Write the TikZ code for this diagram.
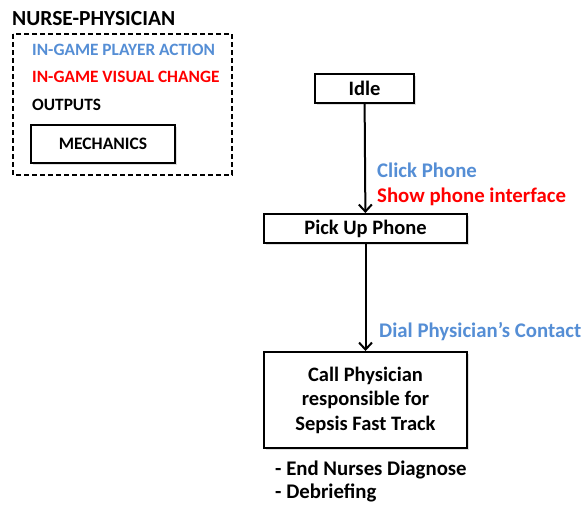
\documentclass[tikz,border=0pt]{standalone}
\usepackage{fontspec}
\setmainfont{Carlito}
\usepackage{tikz}
\usetikzlibrary{arrows.meta, shadows, positioning}

\definecolor{actionblue}{RGB}{85,142,213}
\definecolor{visualred}{RGB}{255,0,0}

\tikzset{
  statebox/.style={draw, line width=2pt, fill=white, inner sep=0pt,
    font=\fontsize{20.5}{24.5}\selectfont\bfseries, align=center,
    drop shadow={shadow xshift=1.5pt, shadow yshift=-1.5pt, opacity=0.25}},
  legendtext/.style={anchor=west, inner sep=0pt, font=\fontsize{17.3}{20}\selectfont\bfseries},
  edgetext/.style={anchor=west, inner sep=0pt, font=\fontsize{20.8}{24}\selectfont\bfseries},
  flow/.style={line width=2pt, -{Straight Barb[length=7pt, width=13pt, line width=2pt]}}
}

\begin{document}
\begin{tikzpicture}[x=1pt, y=-1pt]
    \useasboundingbox (0,0) rectangle (585,507);

    % legend
    \node[legendtext, font=\fontsize{21.5}{24}\selectfont\bfseries] (title) at (12,19) {NURSE-PHYSICIAN};
    \draw[line width=1.8pt, dash pattern=on 5pt off 3pt] (13,34) rectangle (232,175);
    \node[legendtext, text=actionblue] (legaction) at (32,50) {IN-GAME PLAYER ACTION};
    \node[legendtext, text=visualred] (legvisual) at (32,77) {IN-GAME VISUAL CHANGE};
    \node[legendtext] (legoutput) at (32,105) {OUTPUTS};
    \node[statebox, minimum width=144pt, minimum height=38pt,
          font=\fontsize{17.5}{20}\selectfont\bfseries] (legmech) at (103,144) {MECHANICS};

    % states
    \node[statebox, minimum width=99pt, minimum height=29pt] (idle) at (364.5,88.5) {Idle};
    \node[statebox, minimum width=203pt, minimum height=29pt] (pickup) at (365.5,228.5) {Pick Up Phone};
    \node[statebox, minimum width=203pt, minimum height=96pt] (call) at (365.5,400)
        {Call Physician\\responsible for\\Sepsis Fast Track};

    \draw[flow] (idle) -- (pickup);
    \draw[flow] (pickup) -- (call);

    % transition labels
    \node[edgetext, text=actionblue] (clickphone) at (377,170) {Click Phone};
    \node[edgetext, text=visualred] (showphone) at (377,197) {Show phone interface};
    \node[edgetext, text=actionblue] (dialcontact) at (379,332) {Dial Physician’s Contact};

    % outputs
    \node[edgetext] (outend) at (275,470) {- End Nurses Diagnose};
    \node[edgetext] (outdebrief) at (275,493) {- Debriefing};
\end{tikzpicture}
\end{document}
